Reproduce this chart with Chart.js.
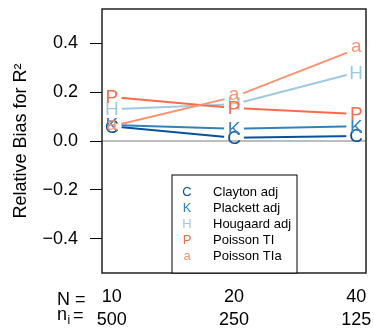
<!DOCTYPE html>
<html>
<head>
<meta charset="utf-8">
<script src="https://cdn.jsdelivr.net/npm/chart.js@4/dist/chart.umd.min.js"></script>
<style>
  html, body { margin: 0; padding: 0; background: #fff; }
  #wrap { width: 374px; height: 329px; }
</style>
</head>
<body>
<div id="wrap"><canvas id="biasChart" width="374" height="329"></canvas></div>
<script>
// values
const groupN = ['10', '20', '40'];
const groupNi = ['500', '250', '125'];
const xPos = [1, 2, 3];
const claytonAdj = [0.06, 0.013, 0.02];
const plackettAdj = [0.065, 0.05, 0.06];
const hougaardAdj = [0.13, 0.15, 0.28];
const poissonTI = [0.18, 0.135, 0.11];
const poissonTIa = [0.06, 0.18, 0.375];
const yTicks = [-0.4, -0.2, 0, 0.2, 0.4];

const seriesNames = ['Clayton adj', 'Plackett adj', 'Hougaard adj', 'Poisson TI', 'Poisson TIa'];
const seriesLetters = ['C', 'K', 'H', 'P', 'a'];
const seriesColors = ['#08519C', '#3182BD', '#9ECAE1', '#FB6A4A', '#FC9272'];
const seriesValues = [claytonAdj, plackettAdj, hougaardAdj, poissonTI, poissonTIa];

const FONT = '"Liberation Sans", Arial, Helvetica, sans-serif';

function toPoints(vals) {
    return vals.map(function(v, i) { return { x: xPos[i], y: v }; });
}

const datasets = seriesValues.map(function(vals, i) {
    return {
        label: seriesNames[i],
        letter: seriesLetters[i],
        data: toPoints(vals),
        borderColor: seriesColors[i],
        backgroundColor: seriesColors[i],
        borderWidth: 2,
        pointRadius: 0,
        tension: 0,
        order: 5 - i
    };
});

// abline(h = 0)
datasets.push({
    label: 'zero',
    data: [{ x: 0.92, y: 0 }, { x: 3.08, y: 0 }],
    borderColor: '#bdbdbd',
    borderWidth: 2,
    pointRadius: 0,
    order: 10
});

// leave gaps round the letters, like type = "b"
const gapPlugin = {
    id: 'gaps',
    beforeDatasetDraw(chart, args) {
        const ds = chart.data.datasets[args.index];
        if (!ds.letter) return;
        const ctx = chart.ctx;
        ctx.save();
        ctx.beginPath();
        ctx.rect(0, 0, chart.width, chart.height);
        args.meta.data.forEach(function(pt) {
            ctx.moveTo(pt.x + 10, pt.y);
            ctx.arc(pt.x, pt.y, 10, 0, Math.PI * 2);
        });
        ctx.clip('evenodd');
    },
    afterDatasetDraw(chart, args) {
        const ds = chart.data.datasets[args.index];
        if (!ds.letter) return;
        chart.ctx.restore();
    }
};

const decorPlugin = {
    id: 'decor',
    afterDatasetsDraw(chart) {
        const ctx = chart.ctx;
        const a = chart.chartArea;
        ctx.save();

        // letters at the points
        ctx.font = '19px ' + FONT;
        ctx.textAlign = 'center';
        ctx.textBaseline = 'middle';
        chart.data.datasets.forEach(function(ds, i) {
            if (!ds.letter) return;
            const meta = chart.getDatasetMeta(i);
            ctx.fillStyle = ds.borderColor;
            meta.data.forEach(function(pt) {
                ctx.fillText(ds.letter, pt.x, pt.y + (ds.letter === 'a' ? -2 : 1));
            });
        });

        // box
        ctx.strokeStyle = '#222';
        ctx.lineWidth = 1.5;
        ctx.strokeRect(a.left, a.top, a.right - a.left, a.bottom - a.top);

        // legend
        const lx = 172, ly = 175, lw = 125, lh = a.bottom - 175;
        ctx.fillStyle = '#fff';
        ctx.fillRect(lx, ly, lw, lh);
        ctx.lineWidth = 1;
        ctx.strokeStyle = '#000';
        ctx.strokeRect(lx, ly, lw, lh);
        ctx.font = '13px ' + FONT;
        ctx.textBaseline = 'middle';
        seriesNames.forEach(function(name, i) {
            const y = 192 + i * 16.2;
            ctx.textAlign = 'center';
            ctx.fillStyle = seriesColors[i];
            ctx.fillText(seriesLetters[i], 187, y);
            ctx.textAlign = 'left';
            ctx.fillStyle = '#000';
            ctx.fillText(name, 213, y);
        });

        // row captions under the axis
        ctx.fillStyle = '#000';
        ctx.textBaseline = 'alphabetic';
        ctx.textAlign = 'left';
        ctx.font = '18px ' + FONT;
        ctx.fillText('N =', 57, 304.5);
        ctx.fillText('n', 57, 320);
        ctx.font = '12px ' + FONT;
        ctx.fillText('i', 67.5, 323.5);
        ctx.font = '18px ' + FONT;
        ctx.fillText('=', 73, 321);
        ctx.restore();
    }
};

const config = {
    type: 'line',
    data: { datasets: datasets },
    options: {
        responsive: false,
        animation: false,
        layout: { padding: { top: 9, right: 8, left: 0, bottom: 0 } },
        scales: {
            x: {
                type: 'linear',
                min: 0.92,
                max: 3.08,
                afterBuildTicks: function(scale) {
                    scale.ticks = xPos.map(function(v) { return { value: v }; });
                },
                afterFit: function(scale) {
                    scale.height = 56;
                    scale.paddingLeft = 0;
                    scale.paddingRight = 0;
                },
                border: { display: false },
                grid: { display: false, drawTicks: false },
                ticks: {
                    color: '#000',
                    padding: 13,
                    maxRotation: 0,
                    autoSkip: false,
                    font: { family: FONT, size: 18, lineHeight: 23 / 18 },
                    callback: function(value, index) {
                        return [groupN[index], groupNi[index]];
                    }
                }
            },
            y: {
                min: -0.539,
                max: 0.539,
                afterBuildTicks: function(scale) {
                    scale.ticks = yTicks.map(function(v) { return { value: v }; });
                },
                afterFit: function(scale) {
                    scale.width = 102;
                    scale.paddingTop = 0;
                    scale.paddingBottom = 0;
                },
                border: { display: false },
                grid: {
                    drawOnChartArea: false,
                    drawTicks: true,
                    tickLength: 12,
                    color: '#000',
                    lineWidth: 1
                },
                ticks: {
                    color: '#000',
                    padding: 12,
                    font: { family: FONT, size: 18 },
                    callback: function(value) {
                        return value.toFixed(1).replace('-', '\u2212');
                    }
                },
                title: {
                    display: true,
                    text: 'Relative Bias for R\u00B2',
                    color: '#000',
                    font: { family: FONT, size: 18 },
                    padding: { top: 10, bottom: 0 }
                }
            }
        },
        plugins: {
            legend: { display: false },
            tooltip: { enabled: false }
        }
    },
    plugins: [gapPlugin, decorPlugin]
};

new Chart(document.getElementById('biasChart').getContext('2d'), config);
</script>
</body>
</html>
